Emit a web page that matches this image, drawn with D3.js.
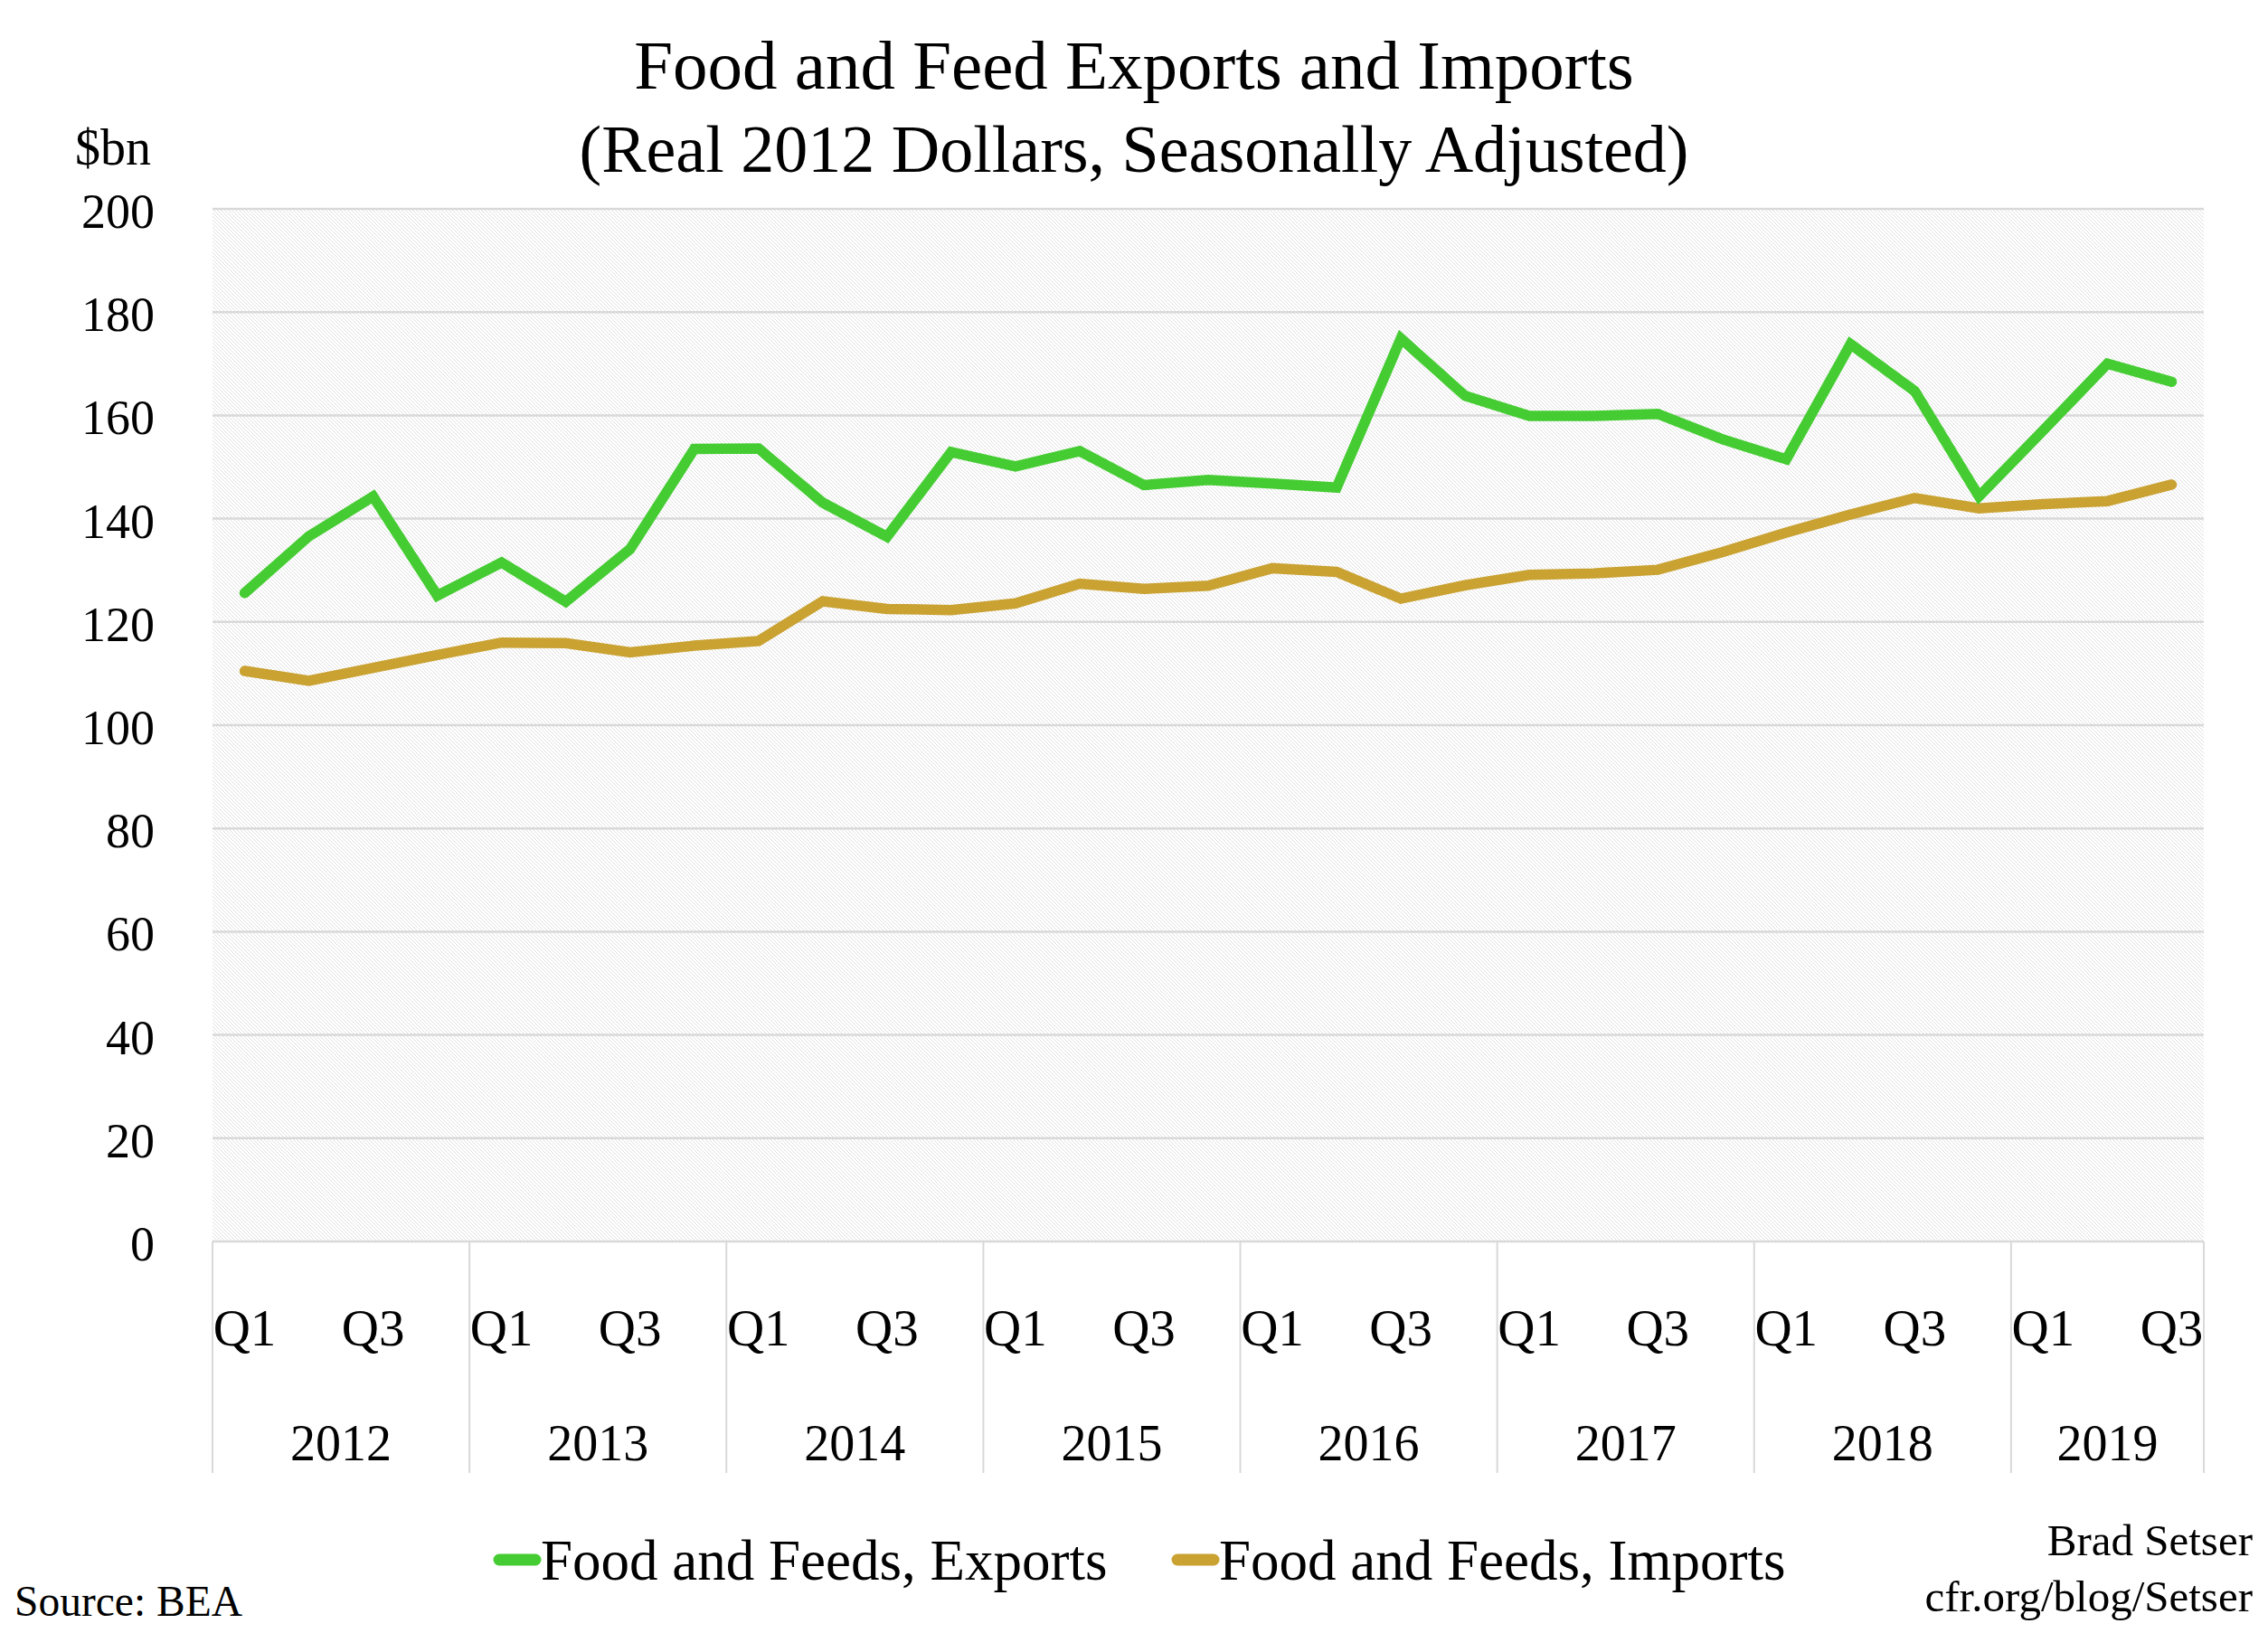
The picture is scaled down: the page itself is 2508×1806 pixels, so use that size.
<!DOCTYPE html>
<html><head><meta charset="utf-8">
<script src="https://cdn.jsdelivr.net/npm/d3@7"></script>
<style>
html,body{margin:0;padding:0;background:#fff;}
svg{display:block;}
text{font-family:"Liberation Serif","Times New Roman",serif;fill:#000;}
</style></head>
<body>
<script>
const years = ["2012","2013","2014","2015","2016","2017","2018","2019"];
const quarterCounts = [4,4,4,4,4,4,4,3];
const quarters = ["Q1","Q2","Q3","Q4"];
const yTicks = [0,20,40,60,80,100,120,140,160,180,200];
const exportsVals = [125.6,136.6,144.3,125.1,131.5,123.9,134.1,153.5,153.6,143.1,136.5,152.9,150.1,153.1,146.5,147.5,146.8,146.0,174.9,163.8,159.9,159.9,160.3,155.4,151.5,173.8,164.7,144.3,157.1,170.0,166.5];
const importsVals = [110.5,108.6,111.1,113.6,116.0,115.9,114.1,115.4,116.3,124.0,122.5,122.3,123.6,127.4,126.4,127.0,130.4,129.7,124.5,127.1,129.1,129.4,130.1,133.5,137.3,140.8,144.0,142.0,142.8,143.4,146.6];
const seriesNames = ["Food and Feeds, Exports","Food and Feeds, Imports"];
const colors = ["#46cc33","#c9a232"];

const categories = [];
years.forEach((y,i)=>{ for(let q=0;q<quarterCounts[i];q++) categories.push({year:y,q:quarters[q],qi:q}); });

const W=2508,H=1806;
const L=235,R=2437,T=231,B=1373;
const svg=d3.select("body").append("svg").attr("width",W).attr("height",H);
const defs=svg.append("defs");
const pat=defs.append("pattern").attr("id","hatch").attr("patternUnits","userSpaceOnUse").attr("width",4).attr("height",4);
pat.append("rect").attr("width",4).attr("height",4).attr("fill","#ffffff");
pat.append("path").attr("d","M-1,-1 L5,5 M-1,3 L1,5 M3,-1 L5,1").attr("stroke","#dcdcdc").attr("stroke-width",0.9);

const x=d3.scaleBand().domain(d3.range(categories.length)).range([L,R]).padding(0);
const y=d3.scaleLinear().domain([0,200]).range([B,T]);
const cx=i=>x(i)+x.bandwidth()/2;

svg.append("rect").attr("x",L).attr("y",T).attr("width",R-L).attr("height",B-T).attr("fill","url(#hatch)");

// gridlines
svg.append("g").selectAll("line").data(yTicks).join("line")
  .attr("x1",L).attr("x2",R).attr("y1",d=>y(d)).attr("y2",d=>y(d))
  .attr("stroke","#d9d9d9").attr("stroke-width",2.5);

// y labels
svg.append("g").selectAll("text").data(yTicks).join("text")
  .attr("x",171).attr("y",d=>y(d)+21).attr("text-anchor","end")
  .attr("font-size",54).text(d=>d);
svg.append("text").attr("x",83).attr("y",182).attr("font-size",56).text("$bn");

// title
svg.append("text").attr("x",1254).attr("y",98).attr("text-anchor","middle").attr("font-size",77).text("Food and Feed Exports and Imports");
svg.append("text").attr("x",1254).attr("y",190).attr("text-anchor","middle").attr("font-size",74).text("(Real 2012 Dollars, Seasonally Adjusted)");

// x axis separators
let start=0; const bounds=[0];
quarterCounts.forEach(c=>{start+=c;bounds.push(start);});
const bx=b=> b<categories.length ? x(b) : R;
svg.append("g").selectAll("line").data(bounds).join("line")
  .attr("x1",d=>bx(d)).attr("x2",d=>bx(d)).attr("y1",B).attr("y2",1629)
  .attr("stroke","#d9d9d9").attr("stroke-width",2);

// quarter labels (Q1, Q3 shown)
svg.append("g").selectAll("text").data(categories.map((c,i)=>({c,i})).filter(d=>d.c.qi%2===0)).join("text")
  .attr("x",d=>cx(d.i)).attr("y",1488).attr("text-anchor","middle").attr("font-size",57).text(d=>d.c.q);

// year labels
svg.append("g").selectAll("text").data(years).join("text")
  .attr("x",(d,i)=>(bx(bounds[i])+bx(bounds[i+1]))/2).attr("y",1615).attr("text-anchor","middle")
  .attr("font-size",56).text(d=>d);

// lines
const line=d3.line().x((d,i)=>cx(i)).y(d=>y(d));
[importsVals,exportsVals].forEach((vals,k)=>{
  const col = k===0?colors[1]:colors[0];
  svg.append("path").datum(vals).attr("d",line).attr("fill","none")
    .attr("stroke",col).attr("stroke-width",11.5).attr("stroke-linecap","round").attr("stroke-linejoin","miter");
});

// legend
const leg=[{x:552,tx:598},{x:1302,tx:1348}];
seriesNames.forEach((n,i)=>{
  svg.append("line").attr("x1",leg[i].x).attr("x2",leg[i].x+40).attr("y1",1725).attr("y2",1725)
    .attr("stroke",colors[i]).attr("stroke-width",13).attr("stroke-linecap","round");
  svg.append("text").attr("x",leg[i].tx).attr("y",1747).attr("font-size",63).text(n);
});

svg.append("text").attr("x",2491).attr("y",1720).attr("text-anchor","end").attr("font-size",49).text("Brad Setser");
svg.append("text").attr("x",2491).attr("y",1782).attr("text-anchor","end").attr("font-size",49).text("cfr.org/blog/Setser");
svg.append("text").attr("x",16).attr("y",1787).attr("font-size",47.5).text("Source: BEA");
</script>
</body></html>
